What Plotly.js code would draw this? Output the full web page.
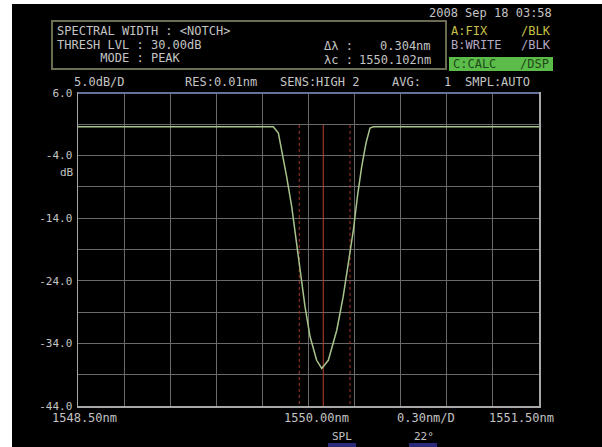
<!DOCTYPE html>
<html>
<head>
<meta charset="utf-8">
<script src="https://cdn.plot.ly/plotly-3.0.1.min.js"></script>
<style>
html,body{margin:0;padding:0;background:#ffffff;width:602px;height:447px;overflow:hidden;}
#chart{position:absolute;left:12px;top:4px;width:590px;height:443px;}
</style>
</head>
<body>
<div id="chart"></div>
<script>
// ---- data ----
const wavelength = [1548.50, 1549.771, 1549.804, 1549.826, 1549.858, 1549.891, 1549.919, 1549.945, 1549.977, 1550.010, 1550.053, 1550.086, 1550.129, 1550.184, 1550.226, 1550.259, 1550.292, 1550.318, 1550.346, 1550.374, 1550.400, 1550.422, 1551.50];
const level = [0.6, 0.6, -0.4, -3.1, -7.4, -12.2, -17.5, -22.8, -28.1, -32.9, -36.7, -38.0, -36.7, -31.9, -26.5, -21.2, -15.9, -10.6, -5.8, -2.0, 0.4, 0.6, 0.6];
const markerWavelengths = [1549.940, 1550.096, 1550.270];
const markerTop = 0.9;
const yTickVals = [6, 1, -4, -9, -14, -19, -24, -29, -34, -39, -44];
const yTickText = ["6.0", "", "-4.0", "", "-14.0", "", "-24.0", "", "-34.0", "", "-44.0"];
const xLabels = ["1548.50nm", "1550.00nm", "0.30nm/D", "1551.50nm"];
const headerLines = ["SPECTRAL WIDTH : <NOTCH>", "THRESH LVL : 30.00dB", "      MODE : PEAK"];
const resultLabels = ["\u0394\u03bb :", "\u03bbc :"];
const resultValues = ["0.304nm", "1550.102nm"];
const statusRow = ["5.0dB/D", "RES:0.01nm", "SENS:HIGH 2", "AVG:", "1", "SMPL:AUTO"];
const traceStatus = ["A:FIX", "B:WRITE", "C:CALC"];
const traceMode = ["/BLK", "/BLK", "/DSP"];
const dateText = "2008 Sep 18 03:58";
const footer = ["SPL", "22\u00b0"];

// ---- layout helpers (page pixels -> paper fraction) ----
const PL = 78, PR = 539, PT = 93, PB = 406;
const fx = p => (p - PL) / (PR - PL);
const fy = p => (PB - p) / (PB - PT);
const MONO = "DejaVu Sans Mono";
const txt = "#c4c4c4";

function ann(text, x, y, color, size, anchor) {
  return {text: text, xref: "paper", yref: "paper", x: fx(x), y: fy(y),
    xanchor: anchor || "left", yanchor: "middle", showarrow: false,
    font: {family: MONO, size: size || 12, color: color || txt}};
}

const annotations = [];
annotations.push(ann(headerLines[0], 55, 31));
annotations.push(ann(headerLines[1], 55, 45));
annotations.push(ann(headerLines[2], 55, 58));
annotations.push(ann(resultLabels[0], 322, 46));
annotations.push(ann(resultValues[0], 433, 46, txt, 12, "right"));
annotations.push(ann(resultLabels[1], 322, 60));
annotations.push(ann(resultValues[1], 433, 60, txt, 12, "right"));
annotations.push(ann(dateText, 427, 13));
annotations.push(ann(traceStatus[0], 449, 31, "#c8c048"));
annotations.push(ann(traceMode[0], 553, 31, "#c8c048", 12, "right"));
annotations.push(ann(traceStatus[1], 449, 45, "#b4a8c4"));
annotations.push(ann(traceMode[1], 553, 45, "#b4a8c4", 12, "right"));
annotations.push(ann(traceStatus[2], 451, 64, "#1e4a18"));
annotations.push(ann(traceMode[2], 551, 64, "#1e4a18", 12, "right"));
const rowX = [72, 183, 278, 390, 442, 463];
statusRow.forEach((s, i) => annotations.push(ann(s, rowX[i], 82)));
annotations.push(ann("dB", 76, 172, txt, 11, "right"));
const xLabX = [50, 282, 395, 487];
xLabels.forEach((s, i) => annotations.push(ann(s, xLabX[i], 418)));
annotations.push(ann(footer[0], 330, 436, txt, 11));
annotations.push(ann(footer[1], 412, 436, txt, 11));

const shapes = [
  {type: "rect", xref: "paper", yref: "paper", x0: fx(52), x1: fx(446), y0: fy(69), y1: fy(21),
   line: {color: "#6c6c52", width: 2}},
  {type: "rect", xref: "paper", yref: "paper", x0: fx(449), x1: fx(553), y0: fy(71), y1: fy(57),
   fillcolor: "#5cbc4a", line: {width: 0}, layer: "below"},
  {type: "line", xref: "paper", yref: "paper", x0: 0, x1: 1, y0: 1, y1: 1,
   line: {color: "#63739a", width: 2}},
  {type: "rect", xref: "paper", yref: "paper", x0: fx(328), x1: fx(356), y0: fy(447), y1: fy(443),
   fillcolor: "#2a2a78", line: {width: 0}},
  {type: "rect", xref: "paper", yref: "paper", x0: fx(409), x1: fx(437), y0: fy(447), y1: fy(443),
   fillcolor: "#2a2a78", line: {width: 0}}
];

const traces = [];
markerWavelengths.forEach((w, i) => {
  traces.push({x: [w, w], y: [markerTop, -44], type: "scatter", mode: "lines", hoverinfo: "skip",
    line: {color: i === 1 ? "#b8402c" : "#a8382a", width: 1, dash: i === 1 ? "solid" : "dot"}});
});
traces.push({x: wavelength, y: level, type: "scatter", mode: "lines",
  line: {color: "#a8c48c", width: 1.5}});

const layout = {
  width: 590, height: 443,
  margin: {l: 66, r: 63, t: 89, b: 41, pad: 0},
  paper_bgcolor: "#000000", plot_bgcolor: "#000000",
  showlegend: false,
  xaxis: {range: [1548.5, 1551.5], tick0: 1548.5, dtick: 0.3, showticklabels: false, ticks: "",
    showgrid: true, gridcolor: "#6a6a6a", gridwidth: 1, zeroline: false,
    showline: true, linecolor: "#a8a8a8", linewidth: 1.5, mirror: true},
  yaxis: {range: [-44, 6], tickmode: "array", tickvals: yTickVals, ticktext: yTickText, ticks: "",
    ticklabelstandoff: 2, tickfont: {family: MONO, size: 11, color: txt},
    showgrid: true, gridcolor: "#6a6a6a", gridwidth: 1, zeroline: false,
    showline: true, linecolor: "#a8a8a8", linewidth: 1.5, mirror: true},
  annotations: annotations,
  shapes: shapes
};

Plotly.newPlot("chart", traces, layout, {staticPlot: true, displayModeBar: false});
</script>
</body>
</html>
